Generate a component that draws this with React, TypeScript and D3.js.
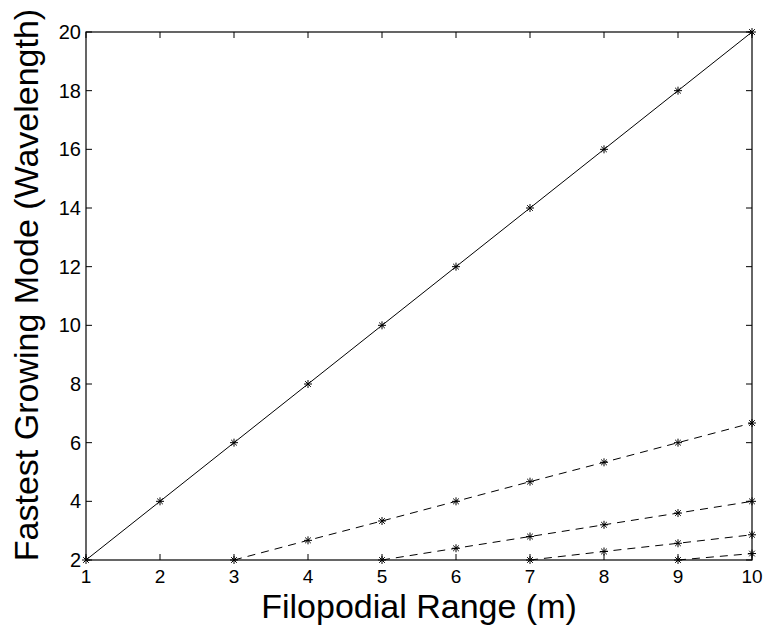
import React, { useRef, useEffect } from "react";
import * as d3 from "d3";

const xTicks = [1, 2, 3, 4, 5, 6, 7, 8, 9, 10];
const yTicks = [2, 4, 6, 8, 10, 12, 14, 16, 18, 20];

const solidX = [1, 2, 3, 4, 5, 6, 7, 8, 9, 10];
const solidY = [2, 4, 6, 8, 10, 12, 14, 16, 18, 20];

const dash1X = [3, 4, 5, 6, 7, 8, 9, 10];
const dash1Y = [2, 2.67, 3.33, 4, 4.67, 5.33, 6, 6.67];
const dash2X = [5, 6, 7, 8, 9, 10];
const dash2Y = [2, 2.4, 2.8, 3.2, 3.6, 4];
const dash3X = [7, 8, 9, 10];
const dash3Y = [2, 2.29, 2.57, 2.86];
const dash4X = [9, 10];
const dash4Y = [2, 2.22];

const series = [
  { xs: solidX, ys: solidY, dashed: false },
  { xs: dash1X, ys: dash1Y, dashed: true },
  { xs: dash2X, ys: dash2Y, dashed: true },
  { xs: dash3X, ys: dash3Y, dashed: true },
  { xs: dash4X, ys: dash4Y, dashed: true },
];

const W = 768;
const H = 631;
const margin = { top: 32, right: 16, bottom: 71, left: 86 };

const App = () => {
  const svgRef = useRef<SVGSVGElement>(null);

  useEffect(() => {
    const svg = d3.select(svgRef.current);
    svg.selectAll("*").remove();
    const font = "'Liberation Sans', Arial, Helvetica, sans-serif";

    const x = d3.scaleLinear().domain([1, 10]).range([margin.left, W - margin.right]);
    const y = d3.scaleLinear().domain([2, 20]).range([H - margin.bottom, margin.top]);

    svg.append("rect").attr("width", W).attr("height", H).attr("fill", "#fff");

    // lines
    const line = d3
      .line<[number, number]>()
      .x((d) => x(d[0]))
      .y((d) => y(d[1]));

    series.forEach((s) => {
      const pts: [number, number][] = s.xs.map((v, i) => [v, s.ys[i]]);
      svg
        .append("path")
        .datum(pts)
        .attr("d", line)
        .attr("fill", "none")
        .attr("stroke", "#000")
        .attr("stroke-width", 1)
        .attr("stroke-dasharray", s.dashed ? "8,6" : null);

      // asterisk markers
      const r = 4;
      pts.forEach((p) => {
        const cx = x(p[0]);
        const cy = y(p[1]);
        const g = svg.append("g").attr("transform", `translate(${cx},${cy})`);
        [0, 45, 90, 135].forEach((a) => {
          const rad = (a * Math.PI) / 180;
          g.append("line")
            .attr("x1", -r * Math.cos(rad))
            .attr("y1", -r * Math.sin(rad))
            .attr("x2", r * Math.cos(rad))
            .attr("y2", r * Math.sin(rad))
            .attr("stroke", "#000")
            .attr("stroke-width", 1);
        });
      });
    });

    // axes box
    const x0 = margin.left;
    const x1 = W - margin.right;
    const y0 = H - margin.bottom;
    const y1 = margin.top;
    svg
      .append("rect")
      .attr("x", x0)
      .attr("y", y1)
      .attr("width", x1 - x0)
      .attr("height", y0 - y1)
      .attr("fill", "none")
      .attr("stroke", "#000")
      .attr("stroke-width", 1.2);

    const tl = 6;
    const ticks = svg.append("g").attr("stroke", "#000").attr("stroke-width", 1);
    xTicks.forEach((t) => {
      ticks.append("line").attr("x1", x(t)).attr("x2", x(t)).attr("y1", y0).attr("y2", y0 - tl);
      ticks.append("line").attr("x1", x(t)).attr("x2", x(t)).attr("y1", y1).attr("y2", y1 + tl);
    });
    yTicks.forEach((t) => {
      ticks.append("line").attr("x1", x0).attr("x2", x0 + tl).attr("y1", y(t)).attr("y2", y(t));
      ticks.append("line").attr("x1", x1).attr("x2", x1 - tl).attr("y1", y(t)).attr("y2", y(t));
    });

    svg
      .append("g")
      .selectAll("text")
      .data(xTicks)
      .enter()
      .append("text")
      .attr("x", (d) => x(d))
      .attr("y", y0 + 23)
      .attr("text-anchor", "middle")
      .attr("font-family", font)
      .attr("font-size", 19)
      .text((d) => d);

    svg
      .append("g")
      .selectAll("text")
      .data(yTicks)
      .enter()
      .append("text")
      .attr("x", x0 - 5)
      .attr("y", (d) => y(d) + 7)
      .attr("text-anchor", "end")
      .attr("font-family", font)
      .attr("font-size", 20)
      .text((d) => d);

    svg
      .append("text")
      .attr("x", (x0 + x1) / 2)
      .attr("y", 618)
      .attr("text-anchor", "middle")
      .attr("font-family", font)
      .attr("font-size", 34)
      .text("Filopodial Range (m)");

    svg
      .append("text")
      .attr("transform", `translate(38,285) rotate(-90)`)
      .attr("text-anchor", "middle")
      .attr("font-family", font)
      .attr("font-size", 34)
      .text("Fastest Growing Mode (Wavelength)");
  }, []);

  return (
    <div style={{ position: "absolute", left: 0, top: 0 }}>
      <svg ref={svgRef} width={W} height={H} style={{ display: "block" }} />
    </div>
  );
};

export default App;
